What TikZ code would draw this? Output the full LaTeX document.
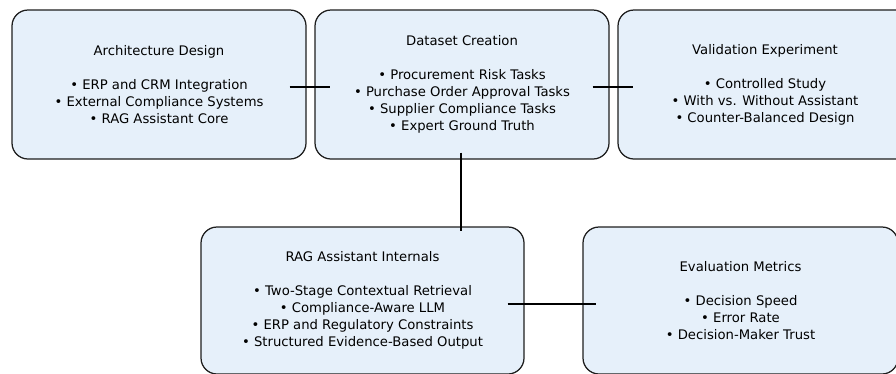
\documentclass[tikz,border=0pt]{standalone}
\usepackage{fontspec}
\setmainfont{DejaVu Sans}
\usetikzlibrary{calc}
\definecolor{boxfill}{RGB}{230,240,250}
\definecolor{boxline}{RGB}{30,30,30}
\begin{document}
\begin{tikzpicture}[x=1pt,y=-1pt,
  stagebox/.style={draw=boxline,fill=boxfill,line width=1.25pt,rounded corners=16pt,
    align=center,inner sep=0pt,font=\fontsize{13.2}{17}\selectfont,text=black},
  link/.style={draw=black,line width=1.1pt}]
\useasboundingbox (0,0) rectangle (896,373);
\clip (0,0) rectangle (896,373);
\node[stagebox,minimum width=294pt,minimum height=149pt] (b1) at (159,84.5)
  {Architecture Design\\[17pt]• ERP and CRM Integration\\• External Compliance Systems\\• RAG Assistant Core};
\node[stagebox,minimum width=294pt,minimum height=149pt] (b2) at (462,84.5)
  {Dataset Creation\\[17pt]• Procurement Risk Tasks\\• Purchase Order Approval Tasks\\• Supplier Compliance Tasks\\• Expert Ground Truth};
\node[stagebox,minimum width=294pt,minimum height=149pt] (b3) at (765,84.5)
  {Validation Experiment\\[17pt]• Controlled Study\\• With vs. Without Assistant\\• Counter-Balanced Design};
\node[stagebox,minimum width=323pt,minimum height=147pt] (b4) at (362.5,300.5)
  {RAG Assistant Internals\\[17pt]• Two-Stage Contextual Retrieval\\• Compliance-Aware LLM\\• ERP and Regulatory Constraints\\• Structured Evidence-Based Output};
\node[stagebox,minimum width=315pt,minimum height=147pt] (b5) at (740.5,300.5)
  {Evaluation Metrics\\[17pt]• Decision Speed\\• Error Rate\\• Decision-Maker Trust};
\draw[link] ($(b1.east)+(-17,2.5)$) -- ($(b2.west)+(16,2.5)$);
\draw[link] ($(b2.east)+(-17,2.5)$) -- ($(b3.west)+(16,2.5)$);
\draw[link] ($(b2.south)+(-1,-7)$) -- ($(b4.north)+(98.5,5)$);
\draw[link] ($(b4.east)+(-17,3.5)$) -- ($(b5.west)+(14,3.5)$);
\end{tikzpicture}
\end{document}
